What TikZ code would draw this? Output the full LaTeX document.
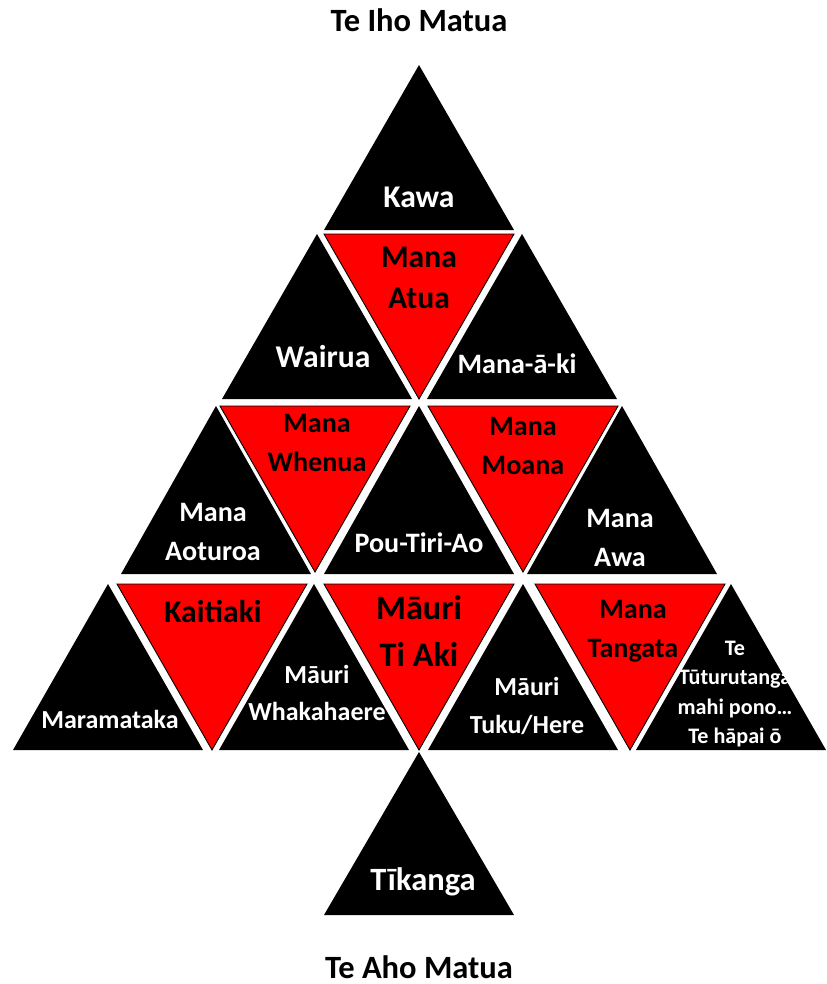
\documentclass[tikz,border=0pt]{standalone}
\usepackage{fontspec}
\setmainfont{Carlito}
\usepackage{xcolor}

\begin{document}
\begin{tikzpicture}[x=0.02cm,y=-0.02cm,
  blktri/.style={fill=black},
  redtri/.style={fill=red,draw=black,line width=0.5pt},
  wlab/.style={text=white,font=\bfseries,align=center,inner sep=0pt},
  rlab/.style={text=black,font=\bfseries,align=center,inner sep=0pt},
  huge/.style={font=\bfseries\fontsize{19.5}{26.5}\selectfont},
  ttl/.style={font=\bfseries\fontsize{18.5}{22}\selectfont},
  big/.style={font=\bfseries\fontsize{18}{23.5}\selectfont},
  mid/.style={font=\bfseries\fontsize{16}{22}\selectfont},
  small/.style={font=\bfseries\fontsize{14.8}{21.5}\selectfont},
  tiny/.style={font=\bfseries\fontsize{12.6}{16.8}\selectfont}]
\useasboundingbox (0,0) rectangle (826,984);
% black triangles, apex up: column / top / base
\foreach \c/\t/\b in {419/65/230, 317/234/399, 522/234/399,
    216/406/574, 419/406/574, 622/406/574,
    108/584/750, 314/584/750, 523/584/750, 731/584/750, 419/752/915}
  \fill[blktri] (\c,\t) -- (\c+95,\b) -- (\c-95,\b) -- cycle;
% red triangles, apex down
\foreach \c/\t/\b in {419/234/399, 315/406/572, 523/406/572,
    212/584/750, 419/584/750, 630/584/750}
  \filldraw[redtri] (\c-95,\t) -- (\c+95,\t) -- (\c,\b) -- cycle;

\node[rlab,ttl] (iho) at (419,20) {Te Iho Matua};
\node[wlab,big] (kawa) at (419,197) {Kawa};
\node[rlab,big] (atua) at (419,278) {Mana\\Atua};
\node[wlab,big] (wairua) at (323,357) {Wairua};
\node[wlab,mid] (manaaki) at (517,364) {Mana-ā-ki};
\node[rlab,mid] (whenua) at (317,443) {Mana\\Whenua};
\node[wlab,mid] (aoturoa) at (213,532) {Mana\\Aoturoa};
\node[wlab,mid] (pou) at (419,543) {Pou-Tiri-Ao};
\node[rlab,mid] (moana) at (523,446) {Mana\\Moana};
\node[wlab,mid] (awa) at (620,538) {Mana\\Awa};
\node[rlab,big] (kaitiaki) at (213,611) {Kaitiaki};
\node[wlab,small] (maramataka) at (110,719) {Maramataka};
\node[wlab,small] (whakahaere) at (317,693) {Māuri\\Whakahaere};
\node[rlab,huge] (tiaki) at (419,631) {Māuri\\Ti Aki};
\node[wlab,small] (tuku) at (527,706) {Māuri\\Tuku/Here};
\node[rlab,mid] (tangata) at (633,631) {Mana\\Tangata};
\node[wlab,tiny] (tuturu) at (735,694) {Te\\Tūturutanga\\mahi pono…\\Te hāpai ō};
\node[wlab,ttl] (tikanga) at (423,882) {Tīkanga};
\node[rlab,ttl] (aho) at (419,967) {Te Aho Matua};
\end{tikzpicture}
\end{document}
